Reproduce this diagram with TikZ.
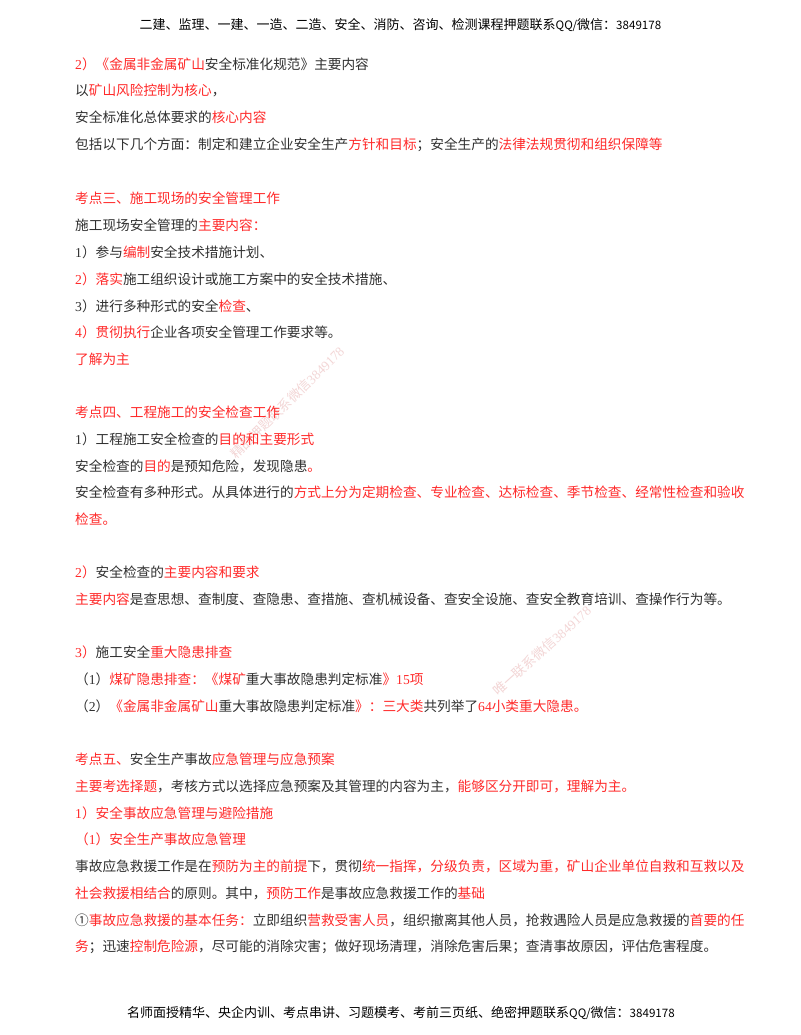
\documentclass[tikz,border=0pt]{standalone}
\usepackage{xcolor}
\usepackage{fontspec}
\setmainfont{Noto Sans CJK SC}
\newfontfamily\numfont{Liberation Serif}
\definecolor{notered}{HTML}{FF2A2A}
\definecolor{notetext}{HTML}{303030}
\definecolor{markpink}{HTML}{F3D6D6}
\newcommand{\hl}[1]{\textcolor{notered}{#1}}
\newcommand{\dg}[1]{{\numfont #1}}
\newcommand{\hn}[1]{{\fontsize{11.6}{14}\selectfont #1}}
\tikzset{
    bodyline/.style={anchor=base west, inner sep=0pt, text=notetext, font=\fontsize{13.66}{16}\selectfont},
    headline/.style={anchor=base, inner sep=0pt, text=black, font=\fontsize{13}{16}\selectfont},
    watermark/.style={anchor=base west, inner sep=0pt, text=markpink, font=\fontsize{13.3}{15}\selectfont}
}
\begin{document}
\begin{tikzpicture}[x=1pt,y=-1pt]
    \useasboundingbox (0,0) rectangle (800,1035);
    \fill[white] (0,0) rectangle (800,1035);

    % page header and footer
    \node[headline] (header) at (400.5,30) {二建、监理、一建、一造、二造、安全、消防、咨询、检测课程押题联系\hn{QQ/}微信：\hn{3849178}};
    \node[headline] (footer) at (401,1017) {名师面授精华、央企内训、考点串讲、习题模考、考前三页纸、绝密押题联系\hn{QQ/}微信：\hn{3849178}};

    % watermarks
    \node[watermark, rotate=44.5] (markone) at (236,460) {精品押题联系微信\dg{3849178}};
    \node[watermark, rotate=42] (marktwo) at (498,697) {唯一联系微信\dg{3849178}};

    % first block
    \node[bodyline] (l01) at (75,70) {\hl{\dg{2}）《金属非金属矿山}安全标准化规范》主要内容};
    \node[bodyline] (l02) at (75,96) {以\hl{矿山风险控制为核心}，};
    \node[bodyline] (l03) at (75,123) {安全标准化总体要求的\hl{核心内容}};
    \node[bodyline] (l04) at (75,150) {包括以下几个方面：制定和建立企业安全生产\hl{方针和目标}；安全生产的\hl{法律法规贯彻和组织保障等}};

    % kaodian 3
    \node[bodyline] (l05) at (75,203) {\hl{考点三、施工现场的安全管理工作}};
    \node[bodyline] (l06) at (75,230) {施工现场安全管理的\hl{主要内容：}};
    \node[bodyline] (l07) at (75,257) {\dg{1}）参与\hl{编制}安全技术措施计划、};
    \node[bodyline] (l08) at (75,284) {\hl{\dg{2}）落实}施工组织设计或施工方案中的安全技术措施、};
    \node[bodyline] (l09) at (75,311) {\dg{3}）进行多种形式的安全\hl{检查}、};
    \node[bodyline] (l10) at (75,337) {\hl{\dg{4}）贯彻执行}企业各项安全管理工作要求等。};
    \node[bodyline] (l11) at (75,364) {\hl{了解为主}};

    % kaodian 4
    \node[bodyline] (l12) at (75,417) {\hl{考点四、工程施工的安全检查工作}};
    \node[bodyline] (l13) at (75,444) {\dg{1}）工程施工安全检查的\hl{目的和主要形式}};
    \node[bodyline] (l14) at (75,471) {安全检查的\hl{目的}是预知危险，发现隐患\hl{。}};
    \node[bodyline] (l15) at (75,497) {安全检查有多种形式。从具体进行的\hl{方式上分为定期检查、专业检查、达标检查、季节检查、经常性检查和验收}};
    \node[bodyline] (l16) at (75,524) {\hl{检查。}};
    \node[bodyline] (l17) at (75,577) {\hl{\dg{2}）}安全检查的\hl{主要内容和要求}};
    \node[bodyline] (l18) at (75,604) {\hl{主要内容}是查思想、查制度、查隐患、查措施、查机械设备、查安全设施、查安全教育培训、查操作行为等。};
    \node[bodyline] (l19) at (75,657) {\hl{\dg{3}）}施工安全\hl{重大隐患排查}};
    \node[bodyline] (l20) at (75,684) {（\dg{1}）\hl{煤矿隐患排查：《煤矿}重大事故隐患判定标准\hl{》\dg{15}项}};
    \node[bodyline] (l21) at (75,711) {（\dg{2}）\hl{《金属非金属矿山}重大事故隐患判定标准\hl{》：三大类}共列举了\hl{\dg{64}小类重大隐患。}};

    % kaodian 5
    \node[bodyline] (l22) at (75,764) {\hl{考点五、}安全生产事故\hl{应急管理与应急预案}};
    \node[bodyline] (l23) at (75,791) {\hl{主要考选择题}，考核方式以选择应急预案及其管理的内容为主，\hl{能够区分开即可，理解为主。}};
    \node[bodyline] (l24) at (75,818) {\hl{\dg{1}）安全事故应急管理与避险措施}};
    \node[bodyline] (l25) at (75,844) {\hl{（\dg{1}）安全生产事故应急管理}};
    \node[bodyline] (l26) at (75,871) {事故应急救援工作是在\hl{预防为主的前提}下，贯彻\hl{统一指挥，分级负责，区域为重，矿山企业单位自救和互救以及}};
    \node[bodyline] (l27) at (75,898) {\hl{社会救援相结合}的原则。其中，\hl{预防工作}是事故应急救援工作的\hl{基础}};
    \node[bodyline] (l28) at (75,925) {①\hl{事故应急救援的基本任务：}立即组织\hl{营救受害人员}，组织撤离其他人员，抢救遇险人员是应急救援的\hl{首要的任}};
    \node[bodyline] (l29) at (75,951) {\hl{务}；迅速\hl{控制危险源}，尽可能的消除灾害；做好现场清理，消除危害后果；查清事故原因，评估危害程度。};
\end{tikzpicture}
\end{document}
